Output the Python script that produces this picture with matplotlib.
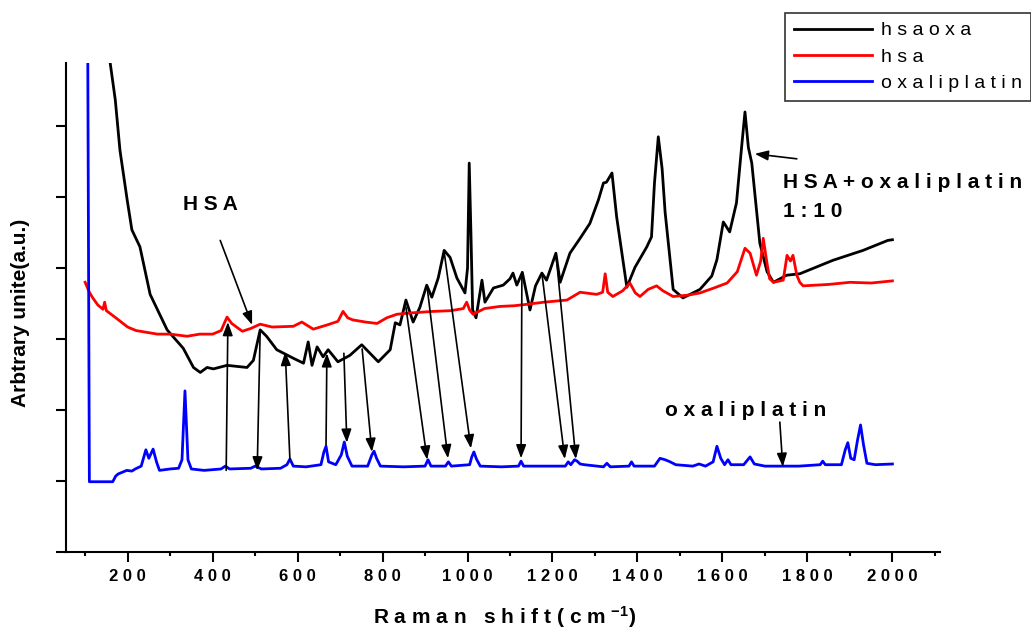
import numpy as np
from matplotlib import pyplot as plt
from matplotlib.ticker import MultipleLocator, FuncFormatter

plt.rcParams['font.family'] = ['Liberation Sans', 'DejaVu Sans']
plt.rcParams['mathtext.fontset'] = 'custom'
plt.rcParams['mathtext.rm'] = 'Liberation Sans:bold'
plt.rcParams['mathtext.bf'] = 'Liberation Sans:bold'
plt.rcParams['mathtext.default'] = 'bf'

# oxaliplatin (blue)
ox_x = [105, 110, 165, 172, 178, 190, 198, 210, 218, 232, 243, 250, 260, 268, 275, 300, 320, 328, 335, 342,
        350, 380, 420, 430, 440, 490, 500, 515, 560, 575, 582, 590, 620, 655, 662, 667, 673, 690, 703, 710,
        717, 728, 765, 775, 780, 786, 795, 850, 900, 907, 914, 948, 955, 962, 1005, 1010, 1015, 1021, 1030, 1080,
        1120, 1126, 1132, 1230, 1237, 1243, 1252, 1258, 1265, 1275, 1320, 1328, 1336, 1380, 1386, 1392, 1440, 1453, 1465, 1477,
        1490, 1530, 1545, 1560, 1578, 1587, 1596, 1605, 1613, 1620, 1650, 1665, 1675, 1700, 1780, 1830, 1836, 1842, 1880, 1889,
        1895, 1902, 1910, 1918, 1925, 1932, 1940, 1960, 2000]
ox_y = [9.0, 0.99, 0.99, 1.07, 1.10, 1.13, 1.15, 1.14, 1.17, 1.21, 1.44, 1.32, 1.45, 1.27, 1.15, 1.17, 1.18, 1.30, 2.27, 1.30,
        1.17, 1.15, 1.17, 1.21, 1.17, 1.18, 1.21, 1.17, 1.18, 1.23, 1.31, 1.21, 1.20, 1.23, 1.41, 1.49, 1.27, 1.23, 1.37, 1.55,
        1.35, 1.21, 1.21, 1.37, 1.42, 1.32, 1.21, 1.20, 1.21, 1.30, 1.21, 1.21, 1.27, 1.21, 1.23, 1.34, 1.41, 1.31, 1.21, 1.20,
        1.21, 1.28, 1.21, 1.21, 1.27, 1.23, 1.30, 1.28, 1.24, 1.23, 1.20, 1.25, 1.20, 1.21, 1.27, 1.21, 1.21, 1.32, 1.30, 1.27,
        1.23, 1.21, 1.24, 1.21, 1.27, 1.49, 1.32, 1.23, 1.30, 1.23, 1.23, 1.34, 1.24, 1.21, 1.21, 1.23, 1.28, 1.23, 1.23, 1.44,
        1.54, 1.32, 1.30, 1.58, 1.79, 1.51, 1.25, 1.23, 1.24]

# hsa (red)
hsa_x = [100, 110, 118, 130, 142, 146, 150, 170, 200, 220, 240, 270, 300, 340, 370, 400, 420, 434, 445, 470,
         490, 512, 540, 590, 610, 637, 670, 695, 707, 718, 730, 760, 787, 810, 834, 870, 919, 960, 990, 998,
         1005, 1013, 1040, 1076, 1110, 1140, 1180, 1234, 1265, 1304, 1318, 1324, 1330, 1342, 1365, 1382, 1395, 1406, 1425, 1445,
         1460, 1484, 1520, 1547, 1580, 1611, 1635, 1653, 1665, 1680, 1690, 1696, 1704, 1711, 1720, 1743, 1752, 1760, 1766, 1775,
         1782, 1790, 1850, 1900, 1950, 2000]
hsa_y = [3.80, 3.66, 3.58, 3.48, 3.42, 3.52, 3.40, 3.31, 3.17, 3.12, 3.10, 3.07, 3.07, 3.04, 3.07, 3.07, 3.12, 3.31, 3.22, 3.11,
         3.15, 3.21, 3.17, 3.18, 3.24, 3.14, 3.20, 3.25, 3.39, 3.30, 3.27, 3.24, 3.22, 3.30, 3.35, 3.37, 3.39, 3.40, 3.43, 3.52,
         3.41, 3.35, 3.43, 3.46, 3.47, 3.49, 3.52, 3.55, 3.66, 3.63, 3.66, 3.92, 3.66, 3.60, 3.68, 3.79, 3.65, 3.60, 3.70, 3.75,
         3.68, 3.60, 3.62, 3.65, 3.72, 3.79, 3.95, 4.28, 4.21, 3.90, 4.10, 4.42, 4.10, 3.85, 3.80, 3.83, 4.18, 4.10, 4.18, 3.90,
         3.80, 3.75, 3.77, 3.80, 3.79, 3.82]

# hsaoxa (black)
mix_x = [150, 159, 171, 182, 199, 210, 229, 253, 293, 331, 355, 371, 387, 402, 434, 481, 496, 512, 527, 551,
         590, 614, 625, 634, 646, 660, 672, 695, 723, 751, 790, 818, 830, 841, 855, 872, 888, 904, 916, 931,
         945, 959, 975, 994, 1000, 1004, 1008, 1012, 1020, 1034, 1041, 1061, 1084, 1100, 1107, 1116, 1129, 1147, 1160, 1175,
         1186, 1208, 1218, 1241, 1265, 1288, 1308, 1320, 1327, 1340, 1351, 1375, 1394, 1422, 1433, 1440, 1449, 1458, 1465, 1484,
         1507, 1547, 1575, 1587, 1602, 1617, 1633, 1645, 1653, 1661, 1669, 1688, 1705, 1720, 1751, 1782, 1860, 1931, 1989, 2000]
mix_y = [7.6, 6.89, 6.37, 5.66, 4.96, 4.54, 4.30, 3.63, 3.13, 2.87, 2.60, 2.53, 2.60, 2.58, 2.63, 2.60, 2.70, 3.13, 3.04, 2.85,
         2.73, 2.66, 2.96, 2.63, 2.89, 2.75, 2.85, 2.68, 2.77, 2.92, 2.68, 2.85, 3.23, 3.20, 3.55, 3.24, 3.45, 3.76, 3.59, 3.86,
         4.25, 4.15, 3.86, 3.65, 4.00, 5.48, 4.50, 3.41, 3.30, 3.83, 3.52, 3.72, 3.76, 3.85, 3.93, 3.76, 3.94, 3.41, 3.75, 3.93,
         3.83, 4.21, 3.80, 4.21, 4.42, 4.63, 4.96, 5.20, 5.21, 5.34, 4.72, 3.73, 4.01, 4.30, 4.44, 5.20, 5.85, 5.40, 4.79, 3.70,
         3.58, 3.70, 3.89, 4.12, 4.65, 4.51, 4.92, 5.70, 6.20, 5.70, 5.48, 4.35, 3.95, 3.80, 3.90, 3.92, 4.11, 4.25, 4.39, 4.40]

# peak correspondence arrows: (x_from, y_from, x_to, y_to)
arrows = [(432, 1.15, 436, 3.24), (512, 3.13, 505, 1.15), (582, 1.30, 571, 2.82), (667, 1.51, 669, 2.80),
          (709, 2.80, 716, 1.54), (752, 2.86, 775, 1.41), (855, 3.45, 905, 1.30), (905, 3.73, 954, 1.32),
          (945, 4.23, 1008, 1.46), (1128, 3.94, 1126, 1.32), (1175, 3.93, 1229, 1.31), (1208, 4.21, 1255, 1.31)]


def spaced(s):
    return ' '.join(s)


fig = plt.figure(figsize=(10.31, 6.28), dpi=100)
ax = fig.add_axes([66/1031, 76/628, 874/1031, 489/628])

ax.plot(mix_x, mix_y, color='black', lw=2, label=spaced('hsaoxa'))
ax.plot(hsa_x, hsa_y, color='red', lw=2, label=spaced('hsa'))
ax.plot(ox_x, ox_y, color='blue', lw=2, label=spaced('oxaliplatin'))

aprops = dict(arrowstyle='-|>,head_length=0.8,head_width=0.3', color='black', lw=1.2,
              shrinkA=0, shrinkB=0)
for x0, y0, x1, y1 in arrows:
    ax.annotate('', xy=(x1, y1), xytext=(x0, y0), arrowprops=aprops)

ax.annotate('', xy=(493, 3.20), xytext=(418, 4.39), arrowprops=aprops)
ax.annotate('', xy=(1676, 5.61), xytext=(1775, 5.54), arrowprops=aprops)
ax.annotate('', xy=(1742, 1.20), xytext=(1735, 1.83), arrowprops=aprops)

tfont = dict(fontsize=15, fontweight='bold', va='center', ha='left')
ax.text(331, 4.89, spaced('HSA'), **tfont)
ax.text(1742, 5.20, spaced('HSA+oxaliplatin'), clip_on=False, **tfont)
ax.text(1742, 4.80, spaced('1:10'), **tfont)
ax.text(1465, 2.0, spaced('oxaliplatin'), **tfont)

ax.set_xlim(55, 2112)
ax.set_ylim(0, 6.89)
ax.spines['top'].set_visible(False)
ax.spines['right'].set_visible(False)
ax.spines['left'].set_linewidth(1.5)
ax.spines['bottom'].set_linewidth(1.5)

ax.xaxis.set_major_locator(MultipleLocator(200))
ax.xaxis.set_minor_locator(MultipleLocator(100))
ax.xaxis.set_major_formatter(FuncFormatter(lambda v, p: spaced(str(int(v))) if 200 <= v <= 2000 else ''))
ax.yaxis.set_major_locator(MultipleLocator(1))
ax.yaxis.set_major_formatter(FuncFormatter(lambda v, p: ''))
ax.tick_params(axis='x', which='major', direction='out', length=7, width=1.5, pad=5)
ax.tick_params(axis='x', which='minor', direction='out', length=3, width=1.5)
ax.tick_params(axis='y', which='major', direction='out', length=7, width=1.5)
for lab in ax.get_xticklabels():
    lab.set_fontweight('bold')
    lab.set_fontsize(12)

ax.set_xlabel(spaced('Raman shift(cm') + ' $^{-1}$)', fontsize=15, fontweight='bold')
ax.xaxis.set_label_coords((505 - 66) / 874, -52 / 489)
ax.set_ylabel('Arbtrary unite(a.u.)', fontsize=15, fontweight='bold')
ax.yaxis.set_label_coords(-36 / 874, 0.49)

leg = fig.legend(loc='upper left', bbox_to_anchor=(785/1031, 1 - 13/628),
                 prop={'size': 14, 'weight': 'normal'},
                 frameon=True, fancybox=False, edgecolor='black', handlelength=4.0,
                 borderpad=0.45, labelspacing=0.45, handletextpad=0.5, borderaxespad=0)
leg.get_frame().set_linewidth(1.2)

fig.savefig('out.png', dpi=100)
